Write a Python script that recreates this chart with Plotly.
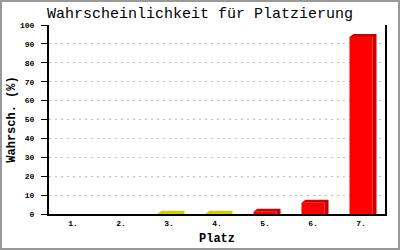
import plotly.graph_objects as go

categories = ["1.", "2.", "3.", "4.", "5.", "6.", "7."]
values = [0, 0, 0.1, 0.1, 1.2, 6.0, 93.7]
front_colors = ["#ffff00", "#ffff00", "#ffff00", "#ffff00", "#ff0000", "#ff0000", "#ff0000"]
shade_colors = ["#cccc00", "#cccc00", "#cccc00", "#cccc00", "#cc0000", "#cc0000", "#cc0000"]

W, H = 400, 250
L, R, T, B = 49, 15, 25, 36
pw, ph = W - L - R, H - T - B
bar_w = 0.48
dx = 4 / (pw / len(categories))      # 4 px depth in x data units
dy = 3 / (ph / 100.0)                 # 3 px depth in y data units

pos = list(range(len(categories)))

fig = go.Figure()
fig.add_trace(go.Bar(x=pos, y=values, width=bar_w,
                     marker=dict(color=front_colors, line=dict(width=0)),
                     showlegend=False, hoverinfo="skip"))

# 3D top + side faces, derived from the data
polys = {}
for c, v, col in zip(pos, values, shade_colors):
    if v <= 0:
        continue
    x0, x1 = c - bar_w / 2, c + bar_w / 2
    xs = [x0, x0 + dx, x1 + dx, x1, x0, None,
          x1, x1, x1 + dx, x1 + dx, x1, None]
    ys = [v, v + dy, v + dy, v, v, None,
          0, v, v + dy, 0, 0, None]
    px, py = polys.setdefault(col, ([], []))
    px.extend(xs)
    py.extend(ys)
for col, (px, py) in polys.items():
    fig.add_trace(go.Scatter(x=px, y=py, mode="lines", fill="toself",
                             fillcolor=col, line=dict(width=0, color=col),
                             showlegend=False, hoverinfo="skip"))

mono = "Liberation Mono"
fig.update_layout(
    width=W, height=H,
    margin=dict(l=L, r=R, t=T, b=B, pad=0),
    paper_bgcolor="white", plot_bgcolor="white",
    title=dict(text="Wahrscheinlichkeit für Platzierung", x=0.5, xref="container",
               xanchor="center", y=1 - 13 / H, yref="container", yanchor="middle",
               font=dict(family=mono, size=15, color="black")),
    xaxis=dict(range=[-0.5, len(categories) - 0.5], tickvals=pos, ticktext=categories,
               showgrid=False, zeroline=False, showline=True, linecolor="black",
               linewidth=2, ticks="", ticklabelstandoff=0, automargin=False,
               tickfont=dict(family=mono, size=8, color="black", weight="bold"),
               title=dict(text="Platz", standoff=7,
                          font=dict(family=mono, size=12, color="black", weight="bold"))),
    yaxis=dict(range=[0, 100], dtick=10, showgrid=True, gridcolor="#c0c0c0",
               griddash="2px,4px", gridwidth=1, zeroline=False, showline=True,
               linecolor="black", linewidth=2, mirror=True, ticks="outside",
               ticklen=6, tickcolor="black", tickwidth=1, ticklabelstandoff=5,
               automargin=False,
               tickfont=dict(family=mono, size=8, color="black", weight="bold"),
               title=dict(text="Wahrsch. (%)", standoff=2,
                          font=dict(family=mono, size=12, color="black", weight="bold"))),
    shapes=[dict(type="rect", xref="paper", yref="paper",
                 x0=(1 - L) / pw, x1=(W - 1 - L) / pw,
                 y0=(T + ph - (H - 1)) / ph, y1=(T + ph - 1) / ph,
                 line=dict(color="#999999", width=2), fillcolor="rgba(0,0,0,0)",
                 layer="above")],
    bargap=0.5,
)

fig.write_html("out.html")
